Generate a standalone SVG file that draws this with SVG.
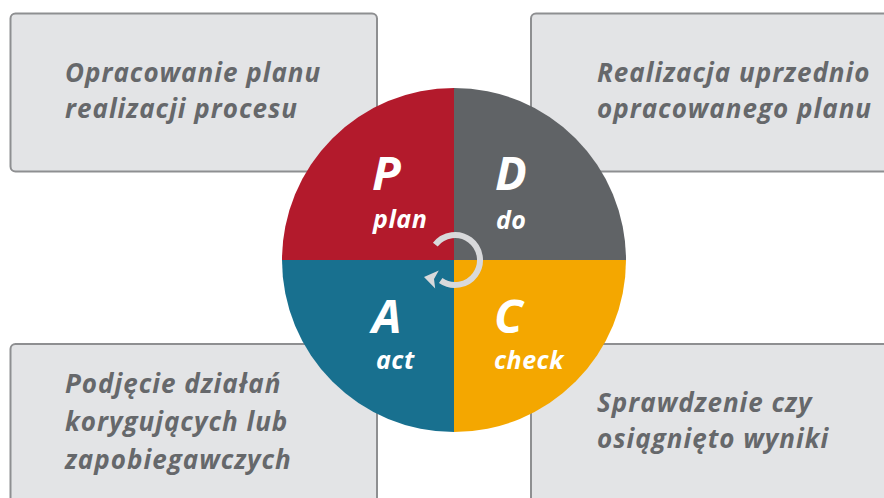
<svg xmlns="http://www.w3.org/2000/svg" width="884" height="498" viewBox="0 0 884 498">
  <style>
    .box { fill: #e3e4e6; stroke: #8e8f91; stroke-width: 2; }
    .desc { font-family: "Open Sans", "Liberation Sans", sans-serif; font-weight: bold; font-style: italic; font-size: 26px; letter-spacing: 1px; fill: #66686b; }
    .big { font-family: "Open Sans", "Liberation Sans", sans-serif; font-weight: bold; font-style: italic; font-size: 47px; fill: #ffffff; }
    .small { font-family: "Open Sans", "Liberation Sans", sans-serif; font-weight: bold; font-style: italic; font-size: 25px; letter-spacing: 0.5px; fill: #ffffff; }
    .cycle { fill: none; stroke: #d8d9db; stroke-width: 6; }
  </style>
  <rect width="884" height="498" fill="#ffffff"/>

  <!-- description boxes -->
  <g id="box-plan">
    <rect class="box" x="10.5" y="13.5" width="366.5" height="158" rx="5"/>
    <text class="desc" x="65" y="82">Opracowanie planu</text>
    <text class="desc" x="65" y="118">realizacji procesu</text>
  </g>
  <g id="box-do">
    <rect class="box" x="531" y="13.5" width="366" height="158" rx="5"/>
    <text class="desc" x="597" y="82">Realizacja uprzednio</text>
    <text class="desc" x="597" y="118">opracowanego planu</text>
  </g>
  <g id="box-act">
    <rect class="box" x="10.5" y="344" width="366.5" height="170" rx="5"/>
    <text class="desc" x="65" y="393">Podjęcie działań</text>
    <text class="desc" x="65" y="431">korygujących lub</text>
    <text class="desc" x="65" y="469">zapobiegawczych</text>
  </g>
  <g id="box-check">
    <rect class="box" x="531" y="344" width="366" height="170" rx="5"/>
    <text class="desc" x="597" y="412">Sprawdzenie czy</text>
    <text class="desc" x="597" y="448">osiągnięto wyniki</text>
  </g>

  <!-- PDCA wheel -->
  <g id="quadrant-plan">
    <path d="M454,260 L282,260 A172,172 0 0 1 454,88 Z" fill="#b31a2c"/>
    <text class="big" x="372" y="190">P</text>
    <text class="small" x="373" y="228">plan</text>
  </g>
  <g id="quadrant-do">
    <path d="M454,260 L454,88 A172,172 0 0 1 626,260 Z" fill="#606366"/>
    <text class="big" x="495" y="190">D</text>
    <text class="small" x="496" y="229">do</text>
  </g>
  <g id="quadrant-check">
    <path d="M454,260 L626,260 A172,172 0 0 1 454,432 Z" fill="#f4a700"/>
    <text class="big" x="494" y="333">C</text>
    <text class="small" x="494" y="369">check</text>
  </g>
  <g id="quadrant-act">
    <path d="M454,260 L454,432 A172,172 0 0 1 282,260 Z" fill="#18708f"/>
    <text class="big" x="372" y="333">A</text>
    <text class="small" x="376" y="369">act</text>
  </g>

  <!-- cycle arrow -->
  <g id="connectors">
    <path class="cycle" d="M435.3,244.6 A25,25 0 1 1 440.7,280.5"/>
    <polygon points="424,277 438.8,270.6 434,279 435.2,288.6" fill="#d8d9db"/>
  </g>
</svg>
